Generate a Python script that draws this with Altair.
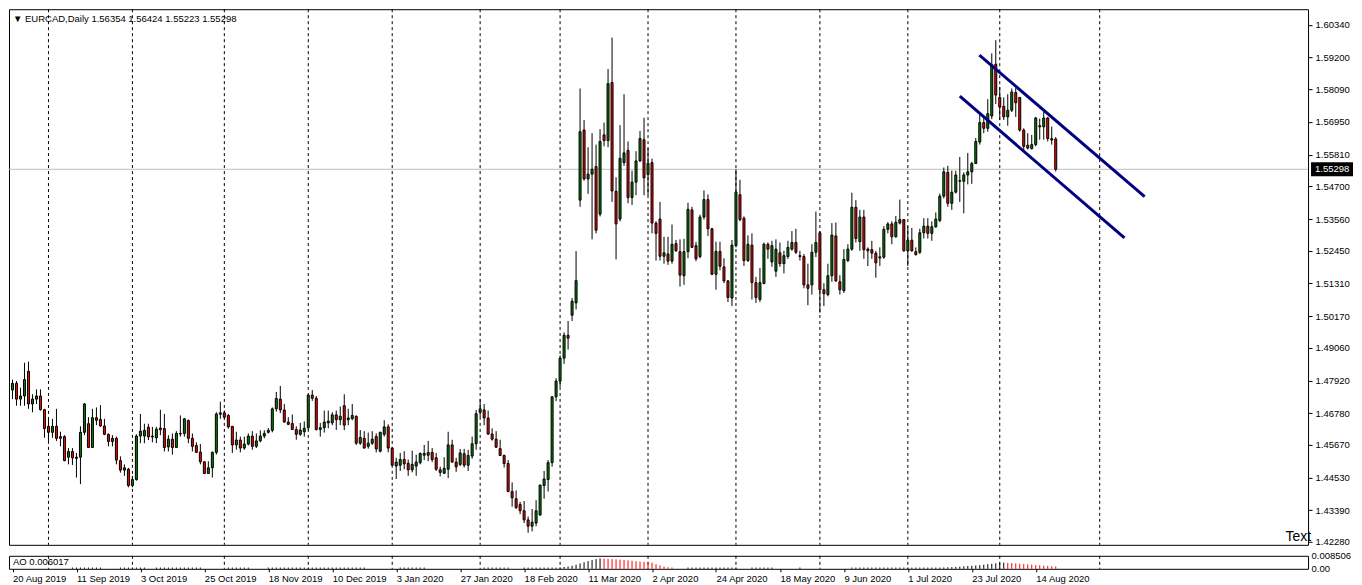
import altair as alt
import pandas as pd
import numpy as np

opens = [1.4759,1.4782,1.4727,1.4738,1.4824,1.4710,1.4727,1.4738,1.4690,1.4632,
1.4611,1.4632,1.4596,1.4596,1.4524,1.4544,1.4524,1.4524,1.4611,1.4641,
1.4558,1.4662,1.4656,1.4633,1.4604,1.4579,1.4590,1.4512,1.4479,1.4482,
1.4425,1.4446,1.4598,1.4598,1.4629,1.4598,1.4592,1.4620,1.4624,1.4560,
1.4587,1.4558,1.4607,1.4607,1.4652,1.4590,1.4565,1.4542,1.4508,1.4467,
1.4487,1.4541,1.4679,1.4679,1.4670,1.4632,1.4567,1.4584,1.4556,1.4570,
1.4598,1.4562,1.4581,1.4598,1.4611,1.4618,1.4693,1.4727,1.4689,1.4647,
1.4642,1.4621,1.4604,1.4613,1.4627,1.4741,1.4730,1.4621,1.4627,1.4644,
1.4644,1.4672,1.4655,1.4704,1.4655,1.4659,1.4667,1.4573,1.4590,1.4562,
1.4573,1.4596,1.4545,1.4604,1.4630,1.4556,1.4493,1.4496,1.4516,1.4503,
1.4480,1.4493,1.4505,1.4531,1.4531,1.4541,1.4522,1.4480,1.4468,1.4482,
1.4567,1.4507,1.4499,1.4536,1.4496,1.4528,1.4571,1.4681,1.4689,1.4661,
1.4605,1.4587,1.4554,1.4530,1.4502,1.4404,1.4379,1.4359,1.4337,1.4305,
1.4283,1.4294,1.4322,1.4425,1.4446,1.4505,1.4735,1.4790,1.4870,1.4950,
1.5020,1.5063,1.5422,1.5667,1.5496,1.5513,1.5539,1.5373,1.5650,1.5630,
1.5833,1.5453,1.5356,1.5553,1.5596,1.5431,1.5485,1.5559,1.5633,1.5511,
1.5553,1.5342,1.5356,1.5226,1.5234,1.5209,1.5270,1.5242,1.5158,1.5242,
1.5388,1.5263,1.5225,1.5363,1.5424,1.5322,1.5163,1.5243,1.5189,1.5140,
1.5080,1.5263,1.5441,1.5359,1.5211,1.5265,1.5134,1.5075,1.5131,1.5268,
1.5206,1.5174,1.5238,1.5200,1.5225,1.5251,1.5274,1.5228,1.5225,1.5126,
1.5126,1.5240,1.5308,1.5109,1.5092,1.5158,1.5297,1.5137,1.5106,1.5211,
1.5251,1.5397,1.5277,1.5363,1.5251,1.5249,1.5237,1.5220,1.5223,1.5320,
1.5339,1.5294,1.5342,1.5354,1.5245,1.5282,1.5242,1.5240,1.5308,1.5331,
1.5306,1.5329,1.5351,1.5436,1.5519,1.5411,1.5450,1.5490,1.5488,1.5510,
1.5521,1.5550,1.5625,1.5693,1.5673,1.5716,1.5897,1.5781,1.5750,1.5713,
1.5736,1.5798,1.5781,1.5667,1.5614,1.5602,1.5616,1.5682,1.5678,1.5709,
1.5637,1.56354]
highs = [1.4795,1.4790,1.4767,1.4854,1.4858,1.4744,1.4761,1.4761,1.4693,1.4664,
1.4658,1.4693,1.4613,1.4601,1.4556,1.4556,1.4539,1.4632,1.4713,1.4664,
1.4693,1.4698,1.4706,1.4658,1.4607,1.4601,1.4596,1.4527,1.4499,1.4487,
1.4459,1.4604,1.4675,1.4641,1.4641,1.4630,1.4630,1.4690,1.4675,1.4601,
1.4607,1.4615,1.4670,1.4661,1.4656,1.4607,1.4576,1.4570,1.4510,1.4510,
1.4544,1.4681,1.4718,1.4687,1.4675,1.4633,1.4613,1.4596,1.4596,1.4607,
1.4615,1.4607,1.4618,1.4618,1.4626,1.4698,1.4752,1.4773,1.4710,1.4664,
1.4673,1.4632,1.4644,1.4649,1.4744,1.4759,1.4738,1.4644,1.4687,1.4687,
1.4681,1.4687,1.4701,1.4744,1.4693,1.4710,1.4670,1.4619,1.4615,1.4610,
1.4615,1.4607,1.4613,1.4653,1.4639,1.4559,1.4522,1.4539,1.4545,1.4516,
1.4547,1.4533,1.4541,1.4567,1.4581,1.4556,1.4539,1.4491,1.4524,1.4613,
1.4585,1.4522,1.4553,1.4553,1.4550,1.4596,1.4689,1.4727,1.4710,1.4687,
1.4625,1.4615,1.4585,1.4533,1.4514,1.4436,1.4408,1.4368,1.4371,1.4317,
1.4343,1.4374,1.4427,1.4476,1.4514,1.4738,1.4800,1.4880,1.4960,1.5000,
1.5080,1.5244,1.5812,1.5702,1.5607,1.5656,1.5616,1.5670,1.5693,1.5880,
1.5990,1.5502,1.5684,1.5792,1.5627,1.5525,1.5593,1.5664,1.5710,1.5604,
1.5567,1.5348,1.5416,1.5294,1.5294,1.5337,1.5283,1.5285,1.5287,1.5413,
1.5399,1.5276,1.5371,1.5456,1.5442,1.5325,1.5277,1.5277,1.5219,1.5143,
1.5283,1.5530,1.5493,1.5365,1.5299,1.5306,1.5154,1.5185,1.5274,1.5274,
1.5280,1.5285,1.5274,1.5245,1.5280,1.5314,1.5322,1.5245,1.5234,1.5200,
1.5268,1.5382,1.5314,1.5132,1.5200,1.5342,1.5344,1.5160,1.5251,1.5268,
1.5448,1.5422,1.5388,1.5388,1.5257,1.5280,1.5245,1.5257,1.5331,1.5345,
1.5348,1.5367,1.5424,1.5356,1.5331,1.5325,1.5257,1.5322,1.5359,1.5359,
1.5348,1.5379,1.5445,1.5536,1.5542,1.5525,1.5525,1.5573,1.5519,1.5587,
1.5556,1.5639,1.5724,1.5713,1.5775,1.5935,1.5981,1.5817,1.5781,1.5792,
1.5812,1.5815,1.5781,1.5673,1.5656,1.5650,1.5713,1.5707,1.5730,1.5713,
1.5679,1.56424]
lows = [1.4727,1.4704,1.4704,1.4704,1.4693,1.4681,1.4710,1.4687,1.4592,1.4581,
1.4592,1.4581,1.4562,1.4510,1.4499,1.4497,1.4453,1.4430,1.4601,1.4556,
1.4556,1.4636,1.4630,1.4601,1.4562,1.4562,1.4499,1.4470,1.4459,1.4419,
1.4419,1.4442,1.4573,1.4573,1.4584,1.4576,1.4573,1.4601,1.4544,1.4544,
1.4533,1.4556,1.4596,1.4596,1.4573,1.4544,1.4539,1.4499,1.4465,1.4467,
1.4453,1.4533,1.4658,1.4658,1.4624,1.4539,1.4550,1.4541,1.4550,1.4565,
1.4550,1.4556,1.4576,1.4590,1.4607,1.4611,1.4683,1.4678,1.4644,1.4636,
1.4619,1.4585,1.4599,1.4596,1.4619,1.4721,1.4617,1.4596,1.4610,1.4625,
1.4636,1.4619,1.4636,1.4619,1.4636,1.4653,1.4567,1.4567,1.4554,1.4554,
1.4567,1.4541,1.4541,1.4596,1.4541,1.4493,1.4448,1.4476,1.4482,1.4459,
1.4471,1.4459,1.4499,1.4514,1.4510,1.4507,1.4476,1.4457,1.4465,1.4451,
1.4505,1.4473,1.4493,1.4488,1.4476,1.4519,1.4550,1.4664,1.4636,1.4602,
1.4582,1.4556,1.4528,1.4488,1.4402,1.4351,1.4343,1.4325,1.4294,1.4260,
1.4265,1.4283,1.4320,1.4379,1.4404,1.4491,1.4720,1.4770,1.4850,1.4900,
1.5000,1.5040,1.5399,1.5490,1.5444,1.5285,1.5306,1.5365,1.5610,1.5607,
1.5416,1.5215,1.5348,1.5542,1.5411,1.5405,1.5439,1.5556,1.5439,1.5439,
1.5306,1.5211,1.5211,1.5200,1.5196,1.5200,1.5242,1.5120,1.5126,1.5219,
1.5257,1.5209,1.5219,1.5354,1.5297,1.5160,1.5109,1.5177,1.5132,1.5066,
1.5052,1.5257,1.5348,1.5192,1.5206,1.5075,1.5063,1.5066,1.5128,1.5217,
1.5189,1.5154,1.5189,1.5166,1.5217,1.5245,1.5234,1.5211,1.5114,1.5055,
1.5092,1.5223,1.5029,1.5052,1.5086,1.5137,1.5137,1.5092,1.5098,1.5206,
1.5245,1.5274,1.5245,1.5217,1.5192,1.5217,1.5151,1.5192,1.5217,1.5306,
1.5268,1.5291,1.5337,1.5242,1.5192,1.5242,1.5228,1.5234,1.5288,1.5288,
1.5280,1.5325,1.5345,1.5428,1.5399,1.5388,1.5445,1.5416,1.5376,1.5477,
1.5479,1.5548,1.5616,1.5656,1.5661,1.5705,1.5758,1.5702,1.5702,1.5682,
1.5730,1.5713,1.5661,1.5593,1.5599,1.5599,1.5610,1.5633,1.5633,1.5627,
1.5616,1.55223]
closes = [1.4782,1.4727,1.4738,1.4795,1.4710,1.4727,1.4738,1.4690,1.4624,1.4611,
1.4632,1.4590,1.4590,1.4512,1.4544,1.4522,1.4520,1.4611,1.4710,1.4558,
1.4662,1.4653,1.4633,1.4604,1.4579,1.4590,1.4514,1.4479,1.4487,1.4425,
1.4446,1.4598,1.4615,1.4618,1.4595,1.4595,1.4622,1.4626,1.4558,1.4587,
1.4558,1.4607,1.4605,1.4658,1.4590,1.4562,1.4541,1.4508,1.4467,1.4487,
1.4541,1.4675,1.4674,1.4664,1.4630,1.4567,1.4584,1.4556,1.4570,1.4598,
1.4562,1.4581,1.4598,1.4607,1.4618,1.4693,1.4729,1.4689,1.4647,1.4639,
1.4621,1.4604,1.4619,1.4625,1.4741,1.4730,1.4621,1.4627,1.4647,1.4650,
1.4672,1.4655,1.4667,1.4636,1.4661,1.4670,1.4573,1.4593,1.4556,1.4573,
1.4587,1.4553,1.4611,1.4630,1.4556,1.4496,1.4507,1.4516,1.4501,1.4480,
1.4499,1.4507,1.4537,1.4537,1.4541,1.4516,1.4482,1.4471,1.4485,1.4567,
1.4507,1.4490,1.4539,1.4496,1.4530,1.4571,1.4676,1.4693,1.4661,1.4605,
1.4587,1.4559,1.4530,1.4502,1.4404,1.4382,1.4348,1.4337,1.4305,1.4283,
1.4297,1.4337,1.4427,1.4448,1.4505,1.4735,1.4790,1.4870,1.4950,1.4940,
1.5069,1.5141,1.5661,1.5496,1.5513,1.5530,1.5317,1.5627,1.5630,1.5829,
1.5454,1.5339,1.5568,1.5587,1.5431,1.5485,1.5559,1.5637,1.5500,1.5551,
1.5342,1.5306,1.5226,1.5238,1.5209,1.5268,1.5245,1.5160,1.5242,1.5390,
1.5257,1.5217,1.5363,1.5424,1.5322,1.5163,1.5243,1.5191,1.5140,1.5082,
1.5265,1.5450,1.5354,1.5211,1.5268,1.5134,1.5082,1.5134,1.5268,1.5251,
1.5263,1.5251,1.5200,1.5228,1.5257,1.5274,1.5240,1.5225,1.5126,1.5114,
1.5240,1.5274,1.5109,1.5095,1.5158,1.5300,1.5140,1.5109,1.5215,1.5251,
1.5397,1.5288,1.5363,1.5249,1.5245,1.5237,1.5203,1.5224,1.5320,1.5339,
1.5294,1.5345,1.5354,1.5245,1.5282,1.5245,1.5232,1.5308,1.5331,1.5306,
1.5329,1.5356,1.5436,1.5521,1.5411,1.5450,1.5510,1.5488,1.5510,1.5521,
1.5550,1.5627,1.5693,1.5673,1.5724,1.5895,1.5789,1.5747,1.5713,1.5736,
1.5800,1.5762,1.5667,1.5610,1.5604,1.5616,1.5709,1.5678,1.5709,1.5637,
1.5632,1.55298]

date_labels = ["20 Aug 2019", "11 Sep 2019", "3 Oct 2019", "25 Oct 2019",
               "18 Nov 2019", "10 Dec 2019", "3 Jan 2020", "27 Jan 2020",
               "18 Feb 2020", "11 Mar 2020", "2 Apr 2020", "24 Apr 2020",
               "18 May 2020", "9 Jun 2020", "1 Jul 2020", "23 Jul 2020",
               "14 Aug 2020"]
label_bars = [0, 16, 32, 48, 64, 80, 96, 112, 128, 144, 160, 176, 192, 208, 224, 240, 256]
grid_bars = [9, 30, 53, 74, 95, 117, 137, 159, 181, 202, 224, 247, 272]
price_ticks = [1.60340, 1.59200, 1.58090, 1.56950, 1.55810, 1.54700, 1.53560,
               1.52450, 1.51310, 1.50170, 1.49060, 1.47920, 1.46780, 1.45670,
               1.44530, 1.43390, 1.42280]
current_price = 1.55298
header = "\u25bc EURCAD,Daily  1.56354 1.56424 1.55223 1.55298"

chan_bar = [241.9, 283.25, 237.0, 278.2]
chan_price = [1.5929, 1.5434, 1.5785, 1.5290]
chan_id = ["upper", "upper", "lower", "lower"]

# Awesome Oscillator: visible (positive) bars
ao_bars = (list(range(15, 23)) + list(range(27, 34)) + list(range(36, 48)) +
           list(range(54, 60)) + list(range(64, 89)) + list(range(97, 104)) +
           list(range(118, 125)) + list(range(128, 136)) +
           list(range(136, 166)) + list(range(169, 182)) + list(range(185, 191)) +
           [197] + list(range(210, 232)) + list(range(232, 262)))
ao_dots = ([0.0008] * 8 + [0.0008] * 7 + [0.0008] * 12 + [0.0008] * 6 + [0.0008] * 25 +
           [0.0008] * 7 + [0.0008] * 7 + [0.0008] * 8)
ao_main1 = [0.0008, 0.0009, 0.0012, 0.0015, 0.0020, 0.0027, 0.0035, 0.0043, 0.0050, 0.0058,
            0.0064, 0.0068, 0.0066, 0.0065, 0.0063, 0.0062, 0.0060, 0.0058, 0.0055, 0.0053,
            0.0050, 0.0047, 0.0045, 0.0043, 0.0040, 0.0030, 0.0022, 0.0015, 0.0010, 0.0008]
ao_dots2 = [0.0008] * 13 + [0.0008] * 6 + [0.0008] + [0.0008] * 22
ao_main2 = [0.0008, 0.0009, 0.0010, 0.0011, 0.0012, 0.0014, 0.0016, 0.0018, 0.0020, 0.0022,
            0.0024, 0.0027, 0.0030, 0.0033, 0.0036, 0.0039, 0.0041, 0.0039, 0.0037, 0.0035,
            0.0033, 0.0031, 0.0029, 0.0027, 0.0025, 0.0023, 0.0021, 0.0019, 0.0017, 0.0015]
ao_vals = ao_dots + ao_main1 + ao_dots2 + ao_main2

W = 1300
H_MAIN = 536
H_AO = 13
FONT = "Liberation Sans"
FS = 9.5

df = pd.DataFrame({"bar": list(range(len(opens))), "open": opens, "high": highs,
                   "low": lows, "close": closes})
df["dir"] = np.where(df["close"] >= df["open"], "up", "down")

xscale = alt.Scale(domain=[-0.875, 324.125], nice=False, zero=False, padding=0)
yscale = alt.Scale(domain=[1.4218, 1.6089], nice=False, zero=False, padding=0)
X = alt.X("bar:Q", scale=xscale, axis=None)

y_axis = alt.Axis(orient="right", values=price_ticks, format=".5f", title=None,
                  grid=False, domain=False, ticks=True, tickSize=4,
                  labelPadding=3, labelOverlap=False)

grid_df = pd.DataFrame({"bar": grid_bars})
grid = alt.Chart(grid_df).mark_rule(color="black", strokeDash=[3, 3], strokeWidth=1).encode(x=X)

cur_df = pd.DataFrame({"price": [current_price], "txt": [f"{current_price:.5f}"]})
cur_line = alt.Chart(cur_df).mark_rule(color="#c0c0c0", strokeWidth=1).encode(
    y=alt.Y("price:Q", scale=yscale, axis=y_axis))

wicks = alt.Chart(df).mark_rule(color="black", strokeWidth=1).encode(
    x=X,
    y=alt.Y("low:Q", scale=yscale, axis=y_axis),
    y2="high:Q")

bodies = alt.Chart(df).mark_bar(size=2, stroke="black", strokeWidth=1).encode(
    x=X,
    y=alt.Y("open:Q", scale=yscale, axis=y_axis),
    y2="close:Q",
    color=alt.Color("dir:N", scale=alt.Scale(domain=["up", "down"], range=["#008000", "#ff0000"]),
                    legend=None))

chan_df = pd.DataFrame({"bar": chan_bar, "price": chan_price, "line": chan_id})
channel = alt.Chart(chan_df).mark_line(color="#000080", strokeWidth=3).encode(
    x=X, y=alt.Y("price:Q", scale=yscale, axis=y_axis), detail="line:N")

tag_shape = "M -1 -0.33 L 1 -0.33 L 1 0.33 L -1 0.33 Z"
tag = alt.Chart(cur_df).mark_point(shape=tag_shape, filled=True, color="black", size=1764,
                                   opacity=1, strokeWidth=0).encode(
    x=alt.value(W + 24), y=alt.Y("price:Q", scale=yscale, axis=y_axis))
tag_text = alt.Chart(cur_df).mark_text(color="white", font=FONT, fontSize=FS, align="left",
                                       baseline="middle").encode(
    x=alt.value(W + 7), y=alt.Y("price:Q", scale=yscale, axis=y_axis), text="txt:N")

head_df = pd.DataFrame({"t": [header]})
head = alt.Chart(head_df).mark_text(align="left", baseline="middle", font=FONT, fontSize=FS,
                                    color="black").encode(
    x=alt.value(4), y=alt.value(10), text="t:N")

txt_df = pd.DataFrame({"t": ["Text"]})
txt_obj = alt.Chart(txt_df).mark_text(align="right", baseline="bottom", font=FONT, fontSize=14,
                                      color="black").encode(
    x=alt.value(W + 3), y=alt.value(H_MAIN - 1), text="t:N")

main = alt.layer(grid, cur_line, wicks, bodies, channel, tag, tag_text, head, txt_obj).properties(
    width=W, height=H_MAIN)

ao_df = pd.DataFrame({"bar": ao_bars, "ao": ao_vals})
ao_df["trend"] = np.where(ao_df["ao"].diff().fillna(1) >= 0, "rising", "falling")
ao_yscale = alt.Scale(domain=[0, 0.0085], nice=False, zero=False, clamp=True, padding=0)

label_expr = "[" + ",".join("'" + s + "'" for s in date_labels) + "][round(datum.value/16)]"
X_ao = alt.X("bar:Q", scale=xscale,
             axis=alt.Axis(orient="bottom", values=label_bars, labelExpr=label_expr, title=None,
                           grid=False, domain=False, ticks=True, tickSize=3, labelAlign="left",
                           labelPadding=2, labelFlush=False, labelOverlap=False))

ao_axis = alt.Axis(orient="right", values=[0, 0.008506], title=None, grid=False,
                   domain=False, ticks=False, labelOverlap=False, labelPadding=3,
                   labelExpr="datum.value == 0 ? '0.00' : '0.008506'")
ao_grid = alt.Chart(grid_df).mark_rule(color="black", strokeDash=[3, 3], strokeWidth=1).encode(x=X_ao)
ao_bars_chart = alt.Chart(ao_df).mark_rule(strokeWidth=1).encode(
    x=X_ao,
    y=alt.Y("ao:Q", scale=ao_yscale, axis=ao_axis),
    y2=alt.datum(0),
    color=alt.Color("trend:N", scale=alt.Scale(domain=["rising", "falling"], range=["black", "red"]),
                    legend=None))
ao_lbl_df = pd.DataFrame({"t": ["AO 0.006017"]})
ao_lbl = alt.Chart(ao_lbl_df).mark_text(align="left", baseline="middle", font=FONT, fontSize=FS,
                                        color="black").encode(
    x=alt.value(4), y=alt.value(H_AO / 2), text="t:N")

ao = alt.layer(ao_grid, ao_bars_chart, ao_lbl).properties(width=W, height=H_AO)

chart = alt.vconcat(main, ao, spacing=2).resolve_scale(color="independent").properties(
    padding={"left": 0, "top": 0, "right": 0, "bottom": 0},
    background="white"
).configure_view(stroke="black", strokeWidth=1).configure_axis(
    labelFont=FONT, labelFontSize=FS, labelColor="black", tickColor="black", labelOverlap=False
)

chart.save("out.html", embed_options={"renderer": "svg", "actions": False})
